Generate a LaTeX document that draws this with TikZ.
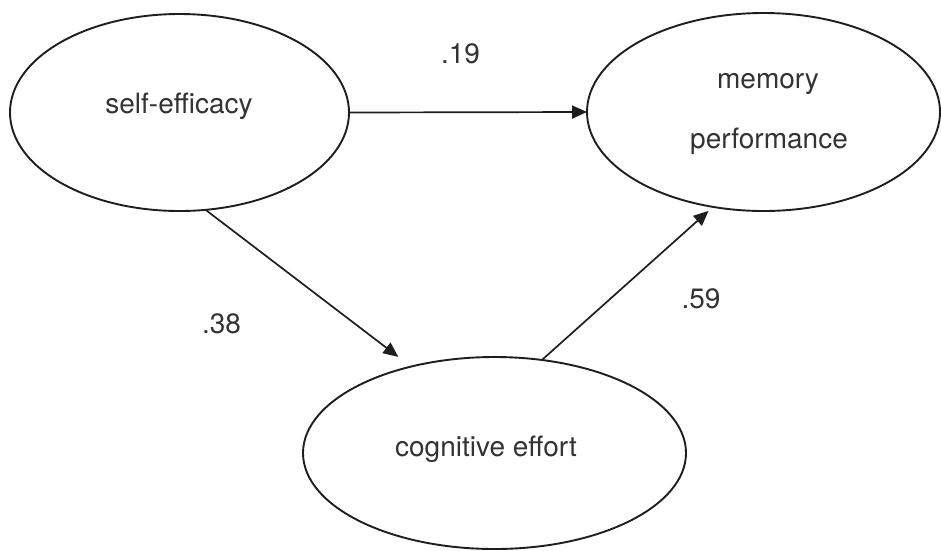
\documentclass[tikz,border=0pt]{standalone}
\usepackage{fontspec}
\setmainfont{TeX Gyre Heros}
\usetikzlibrary{shapes.geometric,arrows.meta}
\definecolor{ink}{HTML}{1E1E1E}
\definecolor{txt}{HTML}{333333}
\begin{document}
\begin{tikzpicture}[x=1pt,y=-1pt,
  oval/.style={ellipse,draw=ink,line width=1.9pt,inner sep=0pt,outer sep=0pt},
  lbl/.style={anchor=base,inner sep=0pt,text=txt,font=\fontsize{28}{34}\selectfont},
  arr/.style={draw=ink,line width=1.7pt,-{Triangle[length=15pt,width=13pt]}}]
\useasboundingbox[fill=white] (0,0) rectangle (941,550);
\node[oval,minimum width=339pt,minimum height=197pt] (se) at (179.5,112.5) {};
\node[oval,minimum width=353pt,minimum height=198pt] (mp) at (763.5,112) {};
\node[oval,minimum width=383pt,minimum height=192pt] (ce) at (494.5,453) {};
\node[lbl] (tse) at (179,113) {self-efficacy};
\node[lbl] (tm) at (768,88) {memory};
\node[lbl] (tp) at (769,148) {performance};
\node[lbl] (tce) at (486,456) {cognitive effort};
\node[lbl] (l19) at (460.5,63) {.19};
\node[lbl] (l38) at (221.5,333) {.38};
\node[lbl] (l59) at (701,308) {.59};
\draw[arr] (se.0) -- (mp.180);
\draw[arr,shorten >=16pt] (se.-75.2) -- (ce.134.5);
\draw[arr,shorten >=6pt] (ce.63.5) -- (mp.-118.2);
\end{tikzpicture}
\end{document}
